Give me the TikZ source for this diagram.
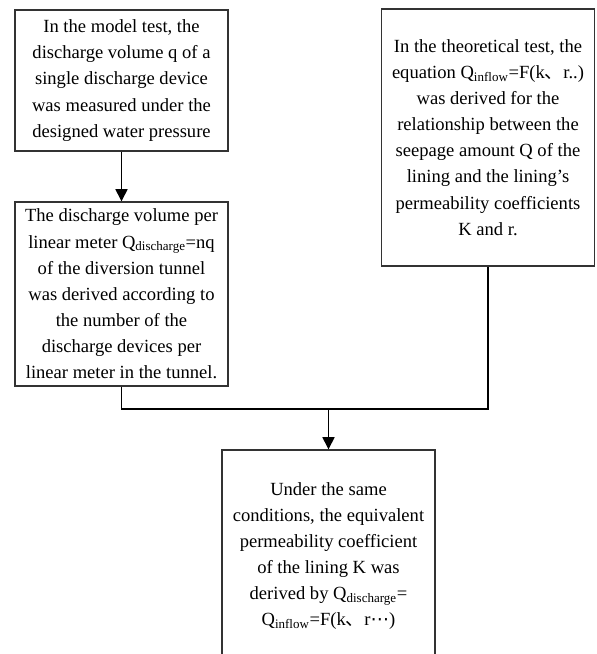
\documentclass[tikz,border=0pt]{standalone}
\usepackage{fontspec}
\setmainfont{Liberation Serif}
\newfontfamily\cjk{Noto Sans CJK SC}
\newfontfamily\symfont{DejaVu Sans}
\usepackage{tikz}
\usetikzlibrary{positioning,arrows.meta}

\begin{document}
\begin{tikzpicture}[
  x=0.0265cm, y=-0.0265cm,
  stepbox/.style={draw=black!80, line width=1.1pt, fill=white, minimum width=5.645cm,
                  align=center, inner sep=2pt, font=\fontsize{14}{19.7}\selectfont},
  arrow/.style={-{Triangle[length=3.2mm,width=3.2mm]}, line width=1.1pt},
  link/.style={line width=1.1pt}
]
\clip (0,0) rectangle (596,654);
\fill[white] (0,0) rectangle (596,654);

\node[stepbox, minimum height=3.737cm] (model) at (121.5,80.5)
  {In the model test, the\\discharge volume q of a\\single discharge device\\was measured under the\\designed water pressure};
\node[stepbox, minimum height=4.876cm] (perm) at (121.5,294)
  {The discharge volume per\\linear meter Q\textsubscript{discharge}=nq\\of the diversion tunnel\\was derived according to\\the number of the\\discharge devices per\\linear meter in the tunnel.};
\node[stepbox, minimum height=6.81cm] (theory) at (488,137.5)
  {In the theoretical test, the\\equation Q\textsubscript{inflow}=F(k{\cjk 、}r..)\\was derived for the\\relationship between the\\seepage amount Q of the\\lining and the lining’s\\permeability coefficients\\K and r.};
\node[stepbox, minimum height=5.618cm] (result) at (328.5,556)
  {Under the same\\conditions, the equivalent\\permeability coefficient\\of the lining K was\\derived by Q\textsubscript{discharge}=\\Q\textsubscript{inflow}=F(k{\cjk 、}r{\symfont ⋯})};

\coordinate (join) at (328.5,409);

\draw[arrow] (model) -- (perm);
\draw[link] (perm.south) |- (join) -| (theory.south);
\draw[arrow] (join) -- (result);

\end{tikzpicture}
\end{document}
